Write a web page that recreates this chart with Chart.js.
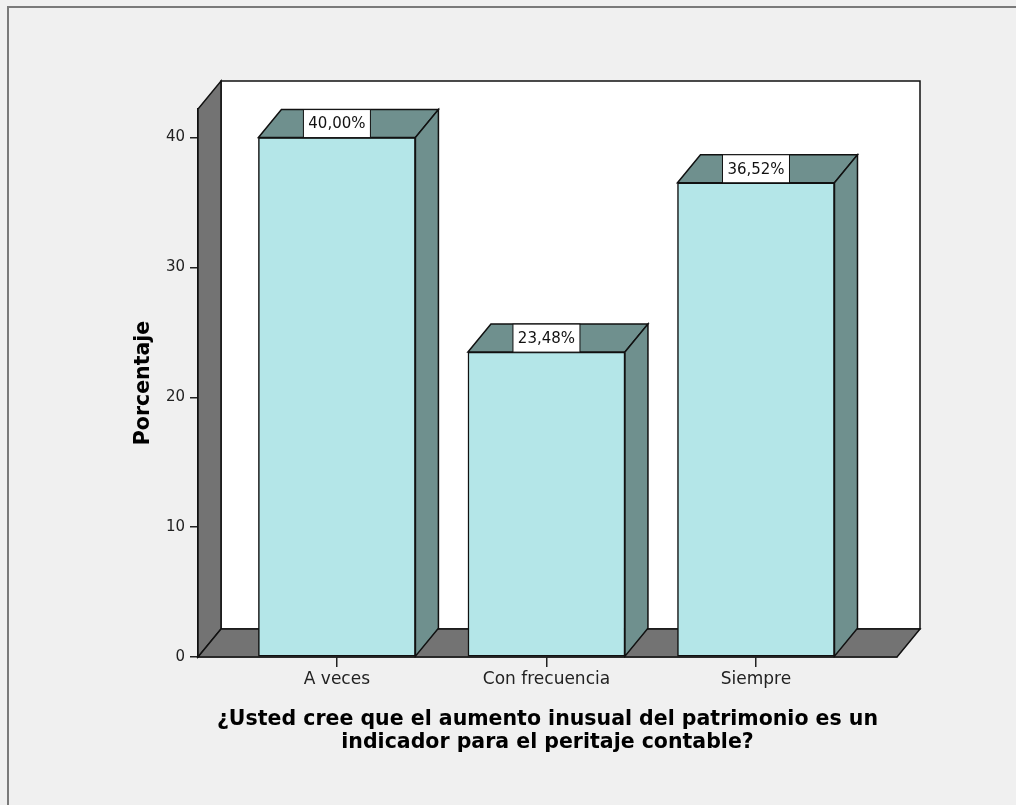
<!DOCTYPE html>
<html>
<head>
<meta charset="utf-8">
<script src="https://cdn.jsdelivr.net/npm/chart.js@4/dist/chart.umd.min.js"></script>
<style>
  html, body { margin: 0; padding: 0; background: #f0f0f0; overflow: hidden; }
  canvas { position: absolute; left: 0; top: 0; }
</style>
</head>
<body>
<canvas id="barChart" width="1016" height="805"></canvas>
<script>
// datos del gráfico
const categories = ['A veces', 'Con frecuencia', 'Siempre'];
const percentages = [40.00, 23.48, 36.52];
const valueLabels = ['40,00%', '23,48%', '36,52%'];
const yTicks = [0, 10, 20, 30, 40];

// profundidad del efecto 3D
const DX = 23, DY = -28;

const poly = (ctx, pts, fill) => {
    ctx.beginPath();
    ctx.moveTo(pts[0][0], pts[0][1]);
    for (let i = 1; i < pts.length; i++) ctx.lineTo(pts[i][0], pts[i][1]);
    ctx.closePath();
    ctx.fillStyle = fill;
    ctx.fill();
    ctx.stroke();
};

const threeD = {
    id: 'threeD',
    beforeDraw(chart) {
        const ctx = chart.ctx;
        ctx.save();
        ctx.fillStyle = '#f0f0f0';
        ctx.fillRect(0, 0, chart.width, chart.height);
        ctx.strokeStyle = '#7a7a7a';
        ctx.lineWidth = 2;
        ctx.strokeRect(8, 7, 1100, 900);
        ctx.restore();
    },
    beforeDatasetsDraw(chart) {
        const {ctx, chartArea: {left: L, right: R, top: T, bottom: B}} = chart;
        ctx.save();
        ctx.strokeStyle = '#111';
        ctx.lineWidth = 1.5;
        ctx.lineJoin = 'miter';
        // pared del fondo
        poly(ctx, [[L + DX, T + DY], [R + DX, T + DY], [R + DX, B + DY], [L + DX, B + DY]], '#ffffff');
        // pared izquierda
        poly(ctx, [[L, B], [L + DX, B + DY], [L + DX, T + DY], [L, T]], '#737373');
        // suelo
        poly(ctx, [[L, B], [R, B], [R + DX, B + DY], [L + DX, B + DY]], '#737373');
        ctx.restore();
    },
    afterDatasetsDraw(chart) {
        const ctx = chart.ctx;
        const meta = chart.getDatasetMeta(0);
        ctx.save();
        ctx.strokeStyle = '#111';
        ctx.lineWidth = 1.5;
        meta.data.forEach((bar, i) => {
            const {x, y, base, width} = bar.getProps(['x', 'y', 'base', 'width'], true);
            const l = x - width / 2, r = x + width / 2;
            poly(ctx, [[l, y], [l + DX, y + DY], [r + DX, y + DY], [r, y]], '#6f908e');
            poly(ctx, [[r, y], [r + DX, y + DY], [r + DX, base + DY], [r, base]], '#6f908e');
            // etiqueta del valor
            ctx.font = '15px "DejaVu Sans"';
            const tw = ctx.measureText(valueLabels[i]).width;
            const bw = Math.round(tw + 10);
            ctx.fillStyle = '#fff';
            ctx.lineWidth = 1;
            ctx.fillRect(x - bw / 2, y + DY, bw, -DY);
            ctx.strokeRect(x - bw / 2, y + DY, bw, -DY);
            ctx.fillStyle = '#111';
            ctx.textAlign = 'center';
            ctx.textBaseline = 'middle';
            ctx.fillText(valueLabels[i], x, y + DY / 2 + 1);
            ctx.lineWidth = 1.5;
        });
        ctx.restore();
    }
};

const ctxBar = document.getElementById('barChart').getContext('2d');
new Chart(ctxBar, {
    type: 'bar',
    data: {
        datasets: [{
            label: 'Porcentaje',
            data: percentages.map((v, i) => ({x: i, y: v})),
            backgroundColor: '#b4e6e8',
            borderColor: '#111',
            borderWidth: 1.5,
            borderSkipped: false,
            barThickness: 157
        }]
    },
    options: {
        responsive: false,
        animation: false,
        events: [],
        layout: {padding: {left: 131, right: 119, top: 109, bottom: 51}},
        plugins: {legend: {display: false}, tooltip: {enabled: false}},
        scales: {
            x: {
                type: 'linear',
                offset: false,
                min: -0.663,
                max: 2.673,
                afterBuildTicks: scale => { scale.ticks = categories.map((c, i) => ({value: i})); },
                afterFit: scale => { scale.height = 97; },
                ticks: {
                    callback: v => categories[v],
                    color: '#222',
                    font: {family: 'DejaVu Sans', size: 17},
                    padding: 2,
                    maxRotation: 0
                },
                grid: {offset: false, drawOnChartArea: false, drawTicks: true, tickLength: 10, color: '#222', lineWidth: 1.5},
                border: {display: true, color: '#111', width: 1.5},
                title: {
                    display: true,
                    text: ['¿Usted cree que el aumento inusual del patrimonio es un', 'indicador para el peritaje contable?'],
                    color: '#000',
                    font: {family: 'DejaVu Sans', size: 20.5, weight: 'bold', lineHeight: 1.12},
                    padding: 0
                }
            },
            y: {
                min: 0,
                max: 42.2,
                afterBuildTicks: scale => { scale.ticks = yTicks.map(v => ({value: v})); },
                afterFit: scale => { scale.width = 67; },
                ticks: {
                    color: '#222',
                    font: {family: 'DejaVu Sans', size: 15},
                    padding: 5
                },
                grid: {drawOnChartArea: false, drawTicks: true, tickLength: 8, color: '#222', lineWidth: 1.5},
                border: {display: true, color: '#111', width: 1.5},
                title: {
                    display: true,
                    text: 'Porcentaje',
                    color: '#000',
                    font: {family: 'DejaVu Sans', size: 20.5, weight: 'bold'},
                    padding: 0
                }
            }
        }
    },
    plugins: [threeD]
});
</script>
</body>
</html>
